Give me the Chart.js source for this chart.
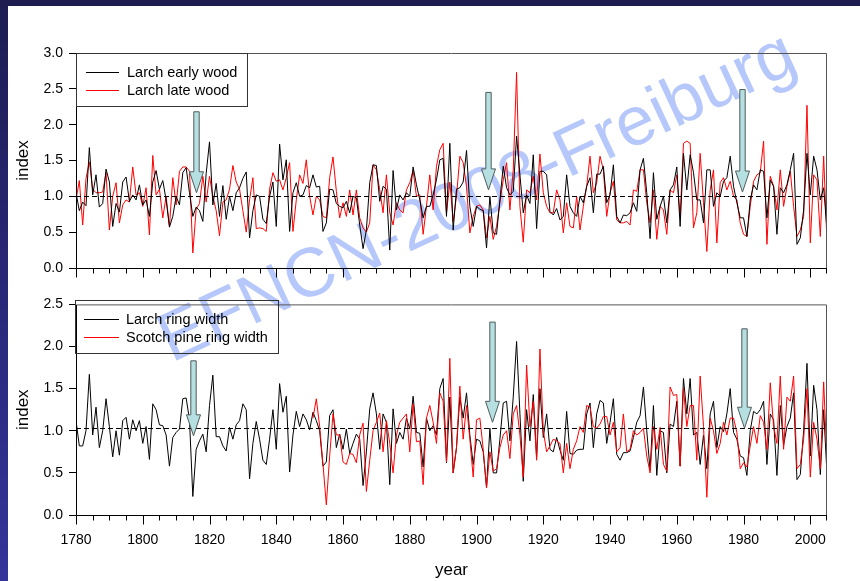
<!DOCTYPE html>
<html>
<head>
<meta charset="utf-8">
<title>Larch and Scotch pine indices</title>
<script src="https://cdn.jsdelivr.net/npm/chart.js@4.4.0/dist/chart.umd.min.js"></script>
<style>
    html, body { margin: 0; padding: 0; }
    body { width: 860px; height: 581px; position: relative; overflow: hidden; background: #fff;
           font-family: Arial, "Liberation Sans", sans-serif; }
    .band-top { position: absolute; left: 0; top: 0; width: 860px; height: 6px; background: #1d1d52; z-index: 10; }
    .band-left { position: absolute; left: 0; top: 0; width: 8px; height: 581px;
                 background: linear-gradient(#1d1d52, #2a2a80 60%, #34349a); z-index: 10; }
    .watermark { position: absolute; left: 476px; top: 195px; transform: translate(-50%, -50%) rotate(-25deg);
                 font: 69px Arial, "Liberation Sans", sans-serif; color: #b6c8fb; white-space: nowrap;
                 line-height: 1; z-index: 1; }
    canvas { position: absolute; left: 0; z-index: 2; }
    #chartTop { top: 0; }
    #chartBottom { top: 290px; }
    .legend { position: absolute; border: 1px solid #333; box-sizing: border-box; z-index: 3;
              font: 14.5px Arial, "Liberation Sans", sans-serif; color: #000; }
    .legend .row { position: absolute; left: 0; height: 18px; line-height: 18px; white-space: nowrap; }
    .legend .swatch { position: absolute; top: 9px; height: 0; border-top: 1px solid; }
    .legend .label { position: absolute; top: 0; }
</style>
</head>
<body>
<div class="band-top"></div>
<div class="band-left"></div>
<div class="watermark">EFNCN-2008-Freiburg</div>
<canvas id="chartTop" width="860" height="290" style="width:860px;height:290px"></canvas>
<canvas id="chartBottom" width="860" height="291" style="width:860px;height:291px"></canvas>
<div id="legendTop" class="legend" style="left:76px;top:53px;width:172px;height:54px"></div>
<div id="legendBottom" class="legend" style="left:75px;top:300px;width:204px;height:54px"></div>

<script>
// years
const firstYear = 1780;
const lastYear = 2005;
const pineFirstYear = 1851;
const yearLabels = [1780, 1800, 1820, 1840, 1860, 1880, 1900, 1920, 1940, 1960, 1980, 2000];
const topIndexMax = 3.0;
const bottomIndexMax = 2.5;

// upper panel, 1780-2005
const larchEarlyWood = [
    1.05, 0.80, 0.92, 0.87, 1.68, 1.02, 1.30, 0.85, 0.90, 1.38,
    1.20, 0.58, 0.90, 0.78, 1.20, 1.27, 0.93, 1.02, 0.95, 1.16,
    0.88, 0.95, 0.72, 1.20, 1.36, 1.10, 1.22, 0.95, 0.57, 0.72,
    1.00, 0.88, 1.33, 1.40, 1.05, 0.72, 0.85, 0.80, 0.65, 1.32,
    1.76, 0.88, 1.18, 0.72, 1.15, 0.68, 1.00, 0.80, 1.05, 1.12,
    1.25, 1.34, 0.42, 0.80, 1.02, 1.00, 0.68, 0.62, 1.00, 1.20,
    0.58, 1.73, 1.23, 1.51, 0.51, 1.05, 1.19, 1.00, 1.02, 1.15,
    1.12, 1.30, 1.13, 1.14, 0.51, 0.63, 1.10, 1.09, 0.90, 0.86,
    0.84, 0.93, 0.77, 1.00, 0.98, 0.60, 0.27, 0.53, 1.19, 1.44,
    1.43, 0.93, 1.14, 1.10, 0.25, 1.36, 0.81, 1.02, 0.95, 1.05,
    1.00, 1.41, 1.16, 0.95, 0.70, 0.86, 0.86, 1.02, 1.23, 1.51,
    1.53, 0.72, 1.74, 0.53, 1.10, 1.12, 1.20, 1.64, 0.86, 0.58,
    0.86, 0.82, 0.80, 0.28, 1.00, 0.49, 0.47, 0.95, 1.42, 1.12,
    1.02, 1.07, 1.84, 1.30, 0.77, 1.02, 0.90, 1.58, 0.55, 1.35,
    1.35, 1.30, 0.79, 0.74, 0.83, 0.67, 0.72, 1.30, 0.86, 0.77,
    0.72, 1.00, 0.91, 1.14, 1.26, 0.77, 1.31, 1.31, 1.42, 0.91,
    1.02, 1.44, 0.72, 0.63, 0.74, 0.73, 0.77, 0.91, 0.79, 1.37,
    1.53, 1.05, 0.41, 1.33, 0.68, 0.86, 1.00, 0.63, 1.09, 1.16,
    1.41, 0.58, 1.60, 1.09, 1.58, 1.33, 0.95, 0.95, 0.63, 1.37,
    1.37, 0.86, 1.05, 1.00, 1.21, 1.26, 1.56, 1.14, 0.91, 0.70,
    0.70, 0.44, 0.95, 1.16, 1.09, 1.37, 1.35, 0.70, 1.23, 1.14,
    0.47, 1.12, 1.05, 1.16, 1.37, 1.60, 0.33, 0.42, 0.81, 1.60,
    1.02, 1.56, 1.37, 0.95, 1.12, 0.53
];
const larchLateWood = [
    0.95, 1.22, 0.60, 1.25, 1.48, 1.10, 1.05, 1.05, 1.06, 1.33,
    0.53, 1.00, 1.19, 0.63, 0.88, 0.95, 0.92, 1.41, 1.02, 1.05,
    0.86, 1.12, 0.46, 1.57, 1.02, 1.10, 0.70, 1.00, 0.58, 1.26,
    0.88, 1.35, 1.41, 1.41, 1.35, 0.21, 0.82, 0.90, 1.28, 0.92,
    1.28, 1.00, 0.80, 0.45, 0.92, 0.95, 1.10, 1.43, 1.20, 1.10,
    0.80, 0.50, 0.95, 1.26, 0.55, 0.56, 0.55, 0.51, 1.10, 1.33,
    1.21, 1.23, 1.09, 1.26, 1.47, 0.51, 0.95, 1.30, 1.18, 1.51,
    1.00, 0.74, 1.00, 0.95, 0.72, 0.70, 1.26, 1.55, 1.07, 0.70,
    0.91, 0.72, 1.09, 0.74, 1.09, 0.70, 0.56, 0.50, 0.63, 1.44,
    1.37, 1.09, 0.77, 1.30, 0.77, 0.60, 0.91, 0.81, 0.77, 1.09,
    1.19, 1.36, 1.00, 1.02, 0.47, 0.86, 1.30, 0.81, 1.42, 1.65,
    1.74, 0.77, 1.20, 0.65, 1.00, 1.56, 1.47, 1.14, 0.49, 0.72,
    0.86, 0.88, 0.81, 0.42, 0.72, 0.40, 0.58, 0.91, 1.23, 1.47,
    0.81, 1.37, 2.73, 0.86, 0.36, 1.09, 1.05, 1.28, 0.95, 1.59,
    1.05, 0.86, 0.77, 0.77, 1.09, 0.95, 0.49, 0.91, 0.58, 0.56,
    1.00, 0.53, 0.86, 1.14, 1.56, 1.05, 1.19, 1.56, 1.37, 0.72,
    1.05, 1.21, 0.67, 0.63, 0.63, 0.65, 0.60, 1.09, 1.07, 1.37,
    1.37, 0.91, 0.63, 1.09, 0.40, 0.86, 0.81, 0.47, 1.09, 1.05,
    1.30, 0.72, 1.74, 1.77, 1.74, 0.56, 0.77, 1.60, 0.91, 0.23,
    1.09, 1.37, 0.35, 1.19, 1.26, 1.09, 1.21, 1.00, 0.95, 0.63,
    0.47, 0.44, 0.86, 1.21, 1.30, 1.33, 1.77, 0.33, 1.28, 1.14,
    0.81, 1.37, 0.86, 1.14, 1.35, 0.86, 0.44, 0.53, 0.72, 2.27,
    0.35, 1.30, 1.23, 0.44, 1.56, 0.35
];

// lower panel, larch 1780-2005, pine 1851-2005
const larchRingWidth = [
    1.12, 0.82, 0.82, 1.00, 1.67, 0.95, 1.28, 0.80, 1.00, 1.38,
    1.05, 0.69, 1.00, 0.71, 1.12, 1.16, 0.90, 1.13, 1.00, 1.12,
    0.85, 1.05, 0.66, 1.32, 1.25, 1.07, 1.06, 0.95, 0.58, 0.92,
    0.98, 1.02, 1.38, 1.39, 1.13, 0.22, 0.78, 0.88, 0.96, 0.75,
    1.30, 1.66, 0.93, 0.93, 0.82, 0.76, 1.04, 0.90, 1.07, 1.12,
    1.32, 1.25, 0.43, 0.85, 1.11, 0.90, 0.65, 0.60, 0.90, 1.25,
    0.78, 1.56, 1.22, 1.41, 0.51, 0.95, 1.23, 1.05, 1.20, 1.13,
    1.01, 1.22, 1.12, 1.00, 0.58, 0.63, 1.18, 1.25, 0.80, 0.96,
    0.78, 1.02, 0.73, 0.85, 0.96, 0.90, 0.35, 0.75, 1.26, 1.45,
    1.20, 0.78, 1.20, 1.10, 0.36, 1.26, 0.85, 0.98, 0.90, 1.15,
    1.02, 1.41, 0.98, 0.97, 0.57, 1.15, 1.00, 1.06, 0.95, 1.50,
    1.62, 0.62, 1.40, 0.50, 0.80, 1.40, 1.15, 1.45, 0.95, 0.60,
    0.90, 0.88, 0.75, 0.33, 1.03, 0.50, 0.50, 0.90, 1.33, 1.35,
    0.88, 1.40, 2.06, 1.20, 0.40, 1.25, 0.88, 1.43, 0.68, 1.50,
    0.92, 1.20, 0.78, 0.75, 0.92, 0.77, 0.65, 1.23, 0.73, 0.72,
    0.77, 0.78, 0.78, 1.20, 1.33, 0.80, 1.20, 1.36, 1.33, 0.85,
    1.10, 1.38, 0.72, 0.65, 0.74, 0.74, 0.76, 0.92, 1.10, 1.18,
    1.52, 1.00, 0.53, 1.30, 0.47, 1.00, 0.98, 0.50, 1.08, 1.05,
    1.35, 0.58, 1.62, 1.20, 1.62, 0.95, 0.98, 0.60, 0.95, 0.55,
    1.20, 1.35, 0.80, 1.05, 0.99, 1.20, 1.50, 0.98, 0.90, 0.70,
    0.68, 0.47, 1.00, 1.23, 1.20, 1.25, 1.35, 0.60, 1.20, 1.13,
    0.47, 1.30, 0.83, 1.05, 1.15, 1.45, 0.42, 0.48, 1.00, 1.80,
    0.70, 1.54, 1.25, 0.48, 1.25, 0.48
];
const pineRingWidth = [
          1.15, 1.38, 1.05, 0.60, 0.12, 0.70, 1.20, 0.95, 0.95,
    0.63, 0.60, 0.73, 0.72, 0.62, 0.95, 1.09, 0.28, 0.65, 1.00,
    1.10, 1.21, 0.75, 1.12, 0.85, 0.50, 0.95, 1.10, 1.15, 1.20,
    0.75, 1.32, 0.87, 0.88, 0.36, 1.15, 1.30, 1.10, 0.85, 1.45,
    1.35, 0.63, 1.86, 0.50, 0.80, 1.53, 0.90, 1.30, 0.90, 0.45,
    1.13, 1.15, 0.78, 0.32, 0.75, 0.52, 0.55, 0.80, 0.95, 1.00,
    0.67, 1.20, 1.30, 0.95, 0.45, 1.78, 1.05, 1.35, 0.65, 1.97,
    1.00, 0.75, 0.82, 0.90, 0.88, 0.85, 0.50, 0.85, 0.55, 0.78,
    0.88, 1.05, 0.98, 1.30, 1.28, 1.05, 1.03, 1.08, 1.17, 1.17,
    0.95, 1.10, 0.75, 0.80, 1.20, 0.75, 0.78, 1.00, 0.95, 0.98,
    1.03, 0.70, 0.50, 1.05, 0.78, 1.04, 0.60, 0.52, 1.52, 1.42,
    1.43, 0.58, 1.50, 1.05, 1.30, 1.30, 0.65, 1.65, 1.05, 0.21,
    1.15, 1.00, 0.73, 0.85, 1.10, 0.95, 1.15, 1.15, 0.98, 0.55,
    0.62, 0.57, 0.82, 1.05, 0.85, 1.18, 1.10, 0.78, 1.57, 1.05,
    0.85, 1.65, 0.78, 1.40, 1.35, 1.65, 0.55, 0.60, 0.90, 1.50,
    0.45, 1.10, 0.90, 0.55, 1.58, 0.65
];

// dashed reference level and the event arrows (year, index at tail, index at tip)
const topRefLevel = 1.0;
const bottomRefLevel = 1.03;
const topArrows = [
    { year: 1816, from: 2.18, to: 1.05 },
    { year: 1903.3, from: 2.45, to: 1.09 },
    { year: 1979.5, from: 2.49, to: 1.06 }
];
const bottomArrows = [
    { year: 1815.2, from: 1.83, to: 0.94 },
    { year: 1904.6, from: 2.29, to: 1.10 },
    { year: 1980, from: 2.21, to: 1.03 }
];

Chart.defaults.font.family = 'Arial, "Liberation Sans", sans-serif';
Chart.defaults.color = '#000';

function toPoints(values, start) {
    return values.map((v, i) => ({ x: start + i, y: v }));
}

function drawArrow(ctx, cx, yTail, yTip) {
    const shaft = 2.7, head = 7, headLen = 21;
    const yHead = yTip - headLen;
    ctx.beginPath();
    ctx.moveTo(cx - shaft, yTail);
    ctx.lineTo(cx + shaft, yTail);
    ctx.lineTo(cx + shaft, yHead);
    ctx.lineTo(cx + head, yHead);
    ctx.lineTo(cx, yTip);
    ctx.lineTo(cx - head, yHead);
    ctx.lineTo(cx - shaft, yHead);
    ctx.closePath();
    ctx.fillStyle = '#b5dfe0';
    ctx.fill();
    ctx.lineWidth = 1;
    ctx.strokeStyle = '#4f5c5c';
    ctx.stroke();
}

const panelDecor = {
    id: 'panelDecor',
    afterDatasetsDraw(chart, args, opts) {
        const { ctx, chartArea: a, scales: { x, y } } = chart;
        ctx.save();

        // dashed reference line
        const ry = Math.round(y.getPixelForValue(opts.refLevel)) + 0.5;
        ctx.setLineDash([5, 3]);
        ctx.strokeStyle = '#000';
        ctx.lineWidth = 1;
        ctx.beginPath();
        ctx.moveTo(a.left, ry);
        ctx.lineTo(a.right, ry);
        ctx.stroke();
        ctx.setLineDash([]);

        opts.arrows.forEach(m => {
            drawArrow(ctx, Math.round(x.getPixelForValue(m.year)) + 0.5,
                      y.getPixelForValue(m.from), y.getPixelForValue(m.to));
        });

        // frame
        const l = a.left + 0.5, r = a.right - 0.5, t = a.top + 0.5, b = a.bottom + 0.5;
        ctx.strokeStyle = '#555';
        ctx.beginPath();
        ctx.moveTo(l, t); ctx.lineTo(r, t); ctx.lineTo(r, b);
        ctx.stroke();
        ctx.strokeStyle = '#000';
        ctx.beginPath();
        ctx.moveTo(l, t); ctx.lineTo(l, b); ctx.lineTo(r + 0.5, b);
        ctx.stroke();

        // year ticks, long ones at labelled years
        ctx.beginPath();
        for (let yr = firstYear; yr <= lastYear; yr += 5) {
            const px = Math.min(Math.round(x.getPixelForValue(yr)), a.right - 1) + 0.5;
            const len = yearLabels.includes(yr) ? 9 : 5;
            ctx.moveTo(px, b);
            ctx.lineTo(px, b + len);
        }
        ctx.stroke();
        ctx.restore();
    }
};

function xScale(showLabels) {
    return {
        type: 'linear',
        min: firstYear,
        max: lastYear,
        grid: { display: false, drawTicks: false },
        border: { display: false },
        ticks: {
            display: showLabels,
            stepSize: 5,
            autoSkip: false,
            maxRotation: 0,
            padding: 17,
            font: { size: 14 },
            callback: v => yearLabels.includes(v) ? String(v) : ''
        },
        title: {
            display: showLabels,
            text: 'year',
            font: { size: 17 },
            padding: { top: 0, bottom: 0 }
        },
        afterFit: s => { s.height = showLabels ? 66 : 20; }
    };
}

function yScale(max) {
    return {
        min: 0,
        max: max,
        grid: { drawOnChartArea: false, drawTicks: true, tickLength: 7, color: '#000', tickColor: '#000' },
        border: { display: false },
        ticks: { stepSize: 0.5, padding: 6, font: { size: 14 }, callback: v => v.toFixed(1) },
        title: { display: true, text: 'index', font: { size: 17 }, padding: { top: 13, bottom: 0 } },
        afterFit: s => { s.width = 76; }
    };
}

function lineSet(label, color, points, order) {
    return {
        label: label,
        data: points,
        borderColor: color,
        backgroundColor: color,
        borderWidth: 1,
        pointRadius: 0,
        tension: 0,
        fill: false,
        order: order
    };
}

function makePanel(canvasId, datasets, yMax, refLevel, arrows, showYears, padding) {
    return new Chart(document.getElementById(canvasId), {
        type: 'line',
        data: { datasets: datasets },
        options: {
            responsive: false,
            devicePixelRatio: 1,
            animation: false,
            layout: { padding: padding },
            scales: { x: xScale(showYears), y: yScale(yMax) },
            plugins: {
                legend: { display: false },
                tooltip: { enabled: false },
                panelDecor: { refLevel: refLevel, arrows: arrows }
            }
        },
        plugins: [panelDecor]
    });
}

function buildLegend(chart, boxId, swatchLeft, swatchWidth, textLeft) {
    const box = document.getElementById(boxId);
    chart.data.datasets.forEach((ds, i) => {
        const row = document.createElement('div');
        row.className = 'row';
        row.style.top = (9 + i * 18) + 'px';
        row.style.width = '100%';
        row.innerHTML =
            `<span class="swatch" style="left:${swatchLeft}px;width:${swatchWidth}px;border-color:${ds.borderColor}"></span>` +
            `<span class="label" style="left:${textLeft}px">${ds.label}</span>`;
        box.appendChild(row);
    });
}

const topChart = makePanel('chartTop', [
    lineSet('Larch early wood', '#000000', toPoints(larchEarlyWood, firstYear), 1),
    lineSet('Larch late wood', '#ff0000', toPoints(larchLateWood, firstYear), 2)
], topIndexMax, topRefLevel, topArrows, false, { left: 0, right: 33, top: 53, bottom: 2 });

const bottomChart = makePanel('chartBottom', [
    lineSet('Larch ring width', '#000000', toPoints(larchRingWidth, firstYear), 2),
    lineSet('Scotch pine ring width', '#ff0000', toPoints(pineRingWidth, pineFirstYear), 1)
], bottomIndexMax, bottomRefLevel, bottomArrows, true, { left: 0, right: 33, top: 10, bottom: 0 });

buildLegend(topChart, 'legendTop', 9, 33, 50);
buildLegend(bottomChart, 'legendBottom', 8, 35, 50);
</script>
</body>
</html>
